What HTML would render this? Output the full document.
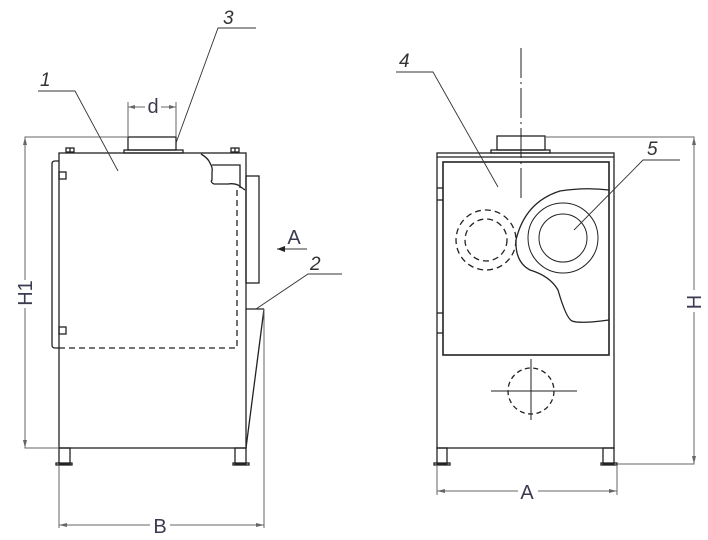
<!DOCTYPE html>
<html><head><meta charset="utf-8"><style>
html,body{margin:0;padding:0;background:#fff}
svg{display:block}
.n{font-family:"Liberation Sans",sans-serif;font-style:italic;font-size:19px;fill:#333}
.d{font-family:"Liberation Sans",sans-serif;font-size:20px;fill:#3a3a50}
</style></head><body>
<svg width="708" height="540" viewBox="0 0 708 540" xmlns="http://www.w3.org/2000/svg">
<g fill="none" stroke="#222" stroke-width="1.3">
<!-- LEFT VIEW -->
<rect x="59" y="153" width="187" height="295"/>
<path d="M59 161 H55 Q52 161 52 164 V345 Q52 348 55 348 H59"/>
<path d="M59 348 H237 V188" stroke-dasharray="6,4"/>
<rect x="59" y="172" width="7" height="7"/>
<rect x="59" y="327" width="7" height="7"/>
<rect x="66" y="148" width="8" height="4"/><line x1="70" y1="148" x2="70" y2="153"/>
<rect x="231" y="148" width="8" height="4"/><line x1="235" y1="148" x2="235" y2="153"/>
<rect x="124" y="150" width="59" height="3"/>
<rect x="128" y="137" width="48" height="13"/>
<!-- breakout -->
<path d="M201 154 Q208 158 210 163 Q213 168 212 172 V180 Q210 182 214 184 L228 184 Q234 183 238 185 L245 190" />
<path d="M212 165 H240 V188"/>
<rect x="246" y="176" width="13" height="107"/>
<line x1="246" y1="309" x2="264" y2="309"/>
<line x1="264" y1="309" x2="246" y2="448"/>
<rect x="59" y="448" width="11" height="16"/><rect x="56" y="463" width="16" height="2"/>
<rect x="235" y="448" width="11" height="16"/><rect x="233" y="463" width="16" height="2"/>
<!-- RIGHT VIEW -->
<rect x="437" y="153" width="177" height="295"/>
<line x1="437" y1="157" x2="614" y2="157"/>
<rect x="443" y="162" width="166" height="193" stroke-width="1.6"/>
<rect x="491" y="150" width="59" height="3"/>
<rect x="497" y="136" width="48" height="14"/>
<line x1="437" y1="188" x2="443" y2="188"/><line x1="437" y1="200" x2="443" y2="200"/>
<line x1="437" y1="313" x2="443" y2="313"/><line x1="437" y1="333" x2="443" y2="333"/>
<circle cx="486" cy="240" r="30" stroke-dasharray="6,4"/>
<circle cx="486" cy="240" r="21" stroke-dasharray="6,4"/>
<circle cx="563" cy="238" r="35" stroke-width="1"/>
<circle cx="563" cy="238" r="24" stroke-width="1"/>
<path d="M609 190 Q585 187 560 191 Q525 202 516 240 Q515 262 530 270 Q550 276 558 290 Q566 318 572 321 Q580 324 609 320"/>
<circle cx="531" cy="391" r="23" stroke-dasharray="5,3.5"/>
<line x1="491" y1="391" x2="577" y2="391" stroke-width="1"/>
<line x1="531" y1="359" x2="531" y2="420" stroke-width="1"/>
<rect x="437" y="448" width="10" height="16"/><rect x="434" y="463" width="16" height="2"/>
<rect x="603" y="448" width="11" height="16"/><rect x="601" y="463" width="16" height="2"/>
<line x1="521" y1="48" x2="521" y2="198" stroke-width="1" stroke-dasharray="30,4,2,4"/>
</g>
<!-- dims & leaders -->
<g fill="none" stroke="#666" stroke-width="1">
<path d="M128 137 H25 V448 H59"/>
<path d="M128 137 V102 M176 137 V102 M128 107 H176"/>
<path d="M59 465 V528 M264 309 V528 M59 525 H264"/>
<path d="M545 137 H694 V464 H617"/>
<path d="M437 465 V495 M617 465 V495 M437 491 H617"/>
</g>
<g fill="#666">
<path d="M25 137 l-2 8 h4z"/><path d="M25 448 l-2 -8 h4z"/>
<path d="M128 107 l7 -2 v4z"/><path d="M176 107 l-7 -2 v4z"/>
<path d="M59 525 l8 -2 v4z"/><path d="M264 525 l-8 -2 v4z"/>
<path d="M694 137 l-2 8 h4z"/><path d="M694 464 l-2 -8 h4z"/>
<path d="M437 491 l8 -2 v4z"/><path d="M617 491 l-8 -2 v4z"/>
</g>
<g fill="none" stroke="#333" stroke-width="0.9">
<path d="M38 91 H75 L118 171"/>
<path d="M256 28 H218 L176 143"/>
<path d="M342 274 H308 L256 309"/>
<path d="M396 72 H433 L498 187"/>
<path d="M680 160 H643 L574 230"/>
<line x1="277" y1="249" x2="307" y2="249"/>
</g>
<path d="M277 249 l8 -3 v6z" fill="#222"/>
<rect x="145" y="102" width="16" height="10" fill="#fff"/>
<text class="d" x="153" y="113" text-anchor="middle">d</text>
<text class="d" x="294" y="244" text-anchor="middle">A</text>
<rect x="150" y="515" width="20" height="18" fill="#fff"/>
<text class="d" x="160" y="533" text-anchor="middle">B</text>
<rect x="518" y="483" width="20" height="18" fill="#fff"/>
<text class="d" x="527" y="499" text-anchor="middle">A</text>
<rect x="16" y="280" width="18" height="28" fill="#fff"/>
<text class="d" transform="translate(32,293) rotate(-90)" text-anchor="middle">H1</text>
<rect x="686" y="290" width="16" height="22" fill="#fff"/>
<text class="d" transform="translate(701,302) rotate(-90)" text-anchor="middle">H</text>
<text class="n" x="40" y="86">1</text>
<text class="n" x="223" y="24">3</text>
<text class="n" x="310" y="270">2</text>
<text class="n" x="399" y="67">4</text>
<text class="n" x="647" y="155">5</text>
</svg>
</body></html>
